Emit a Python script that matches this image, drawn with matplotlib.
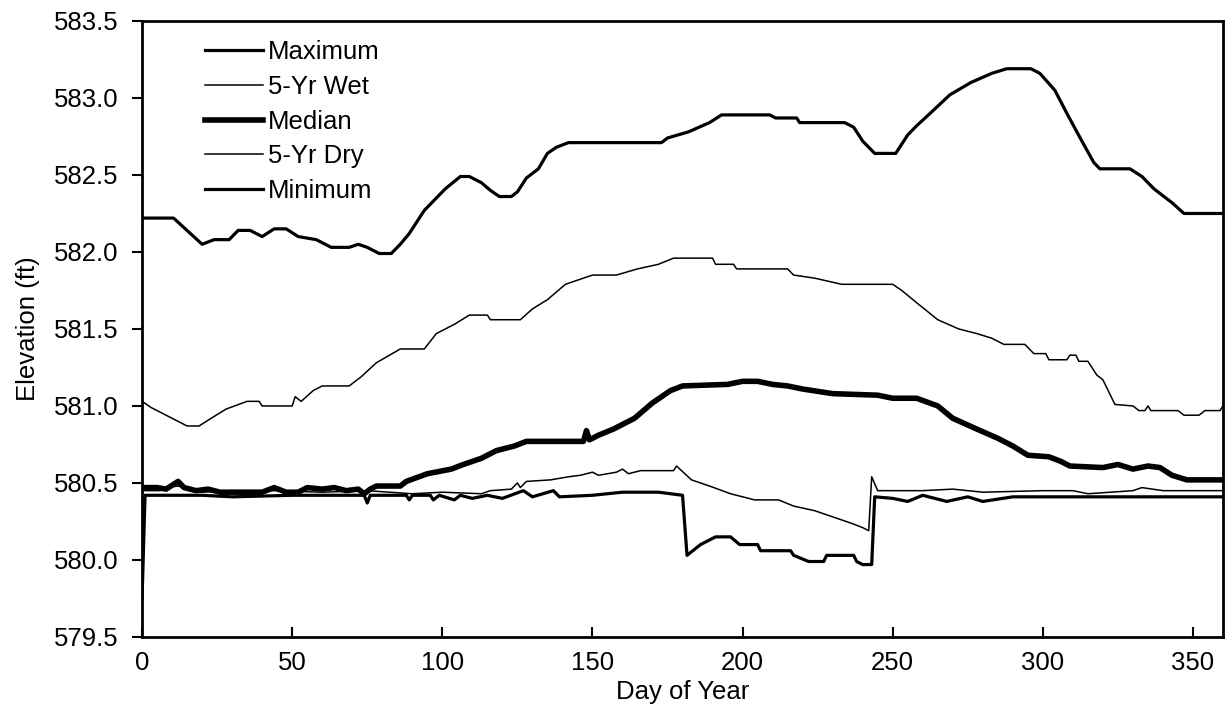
import matplotlib
matplotlib.use("Agg")
import matplotlib.pyplot as plt

plt.rcParams["font.family"] = ["Liberation Sans", "DejaVu Sans"]

# Maximum
max_days = [0, 10.5, 20, 24, 29, 32, 36, 40, 44, 48, 52, 58, 63, 69, 72, 75, 79, 83, 86, 89,
            94, 98, 101, 106, 109, 113, 116, 119, 123, 125, 128, 132, 135, 138, 142, 173, 175,
            182, 189, 193, 209, 211, 218, 219, 234, 237, 240, 244, 251, 255, 258, 263, 269, 276,
            283, 288, 296, 299, 304, 308, 313, 317, 319, 329, 333, 337, 343, 347, 360]
max_elev = [582.22, 582.22, 582.05, 582.08, 582.08, 582.14, 582.14, 582.10, 582.15, 582.15,
            582.10, 582.08, 582.03, 582.03, 582.05, 582.03, 581.99, 581.99, 582.05, 582.12,
            582.27, 582.35, 582.41, 582.49, 582.49, 582.45, 582.40, 582.36, 582.36, 582.39,
            582.48, 582.54, 582.64, 582.68, 582.71, 582.71, 582.74, 582.78, 582.84, 582.89,
            582.89, 582.87, 582.87, 582.84, 582.84, 582.81, 582.72, 582.64, 582.64, 582.76,
            582.82, 582.91, 583.02, 583.10, 583.16, 583.19, 583.19, 583.16, 583.05, 582.90,
            582.72, 582.58, 582.54, 582.54, 582.49, 582.41, 582.32, 582.25, 582.25]

# 5-Yr Wet
wet_days = [0, 3, 10, 15, 19, 23, 28, 35, 39, 40, 50, 51, 53, 57, 60, 69, 73, 78, 86, 94, 98,
            104, 109, 115, 116, 126, 130, 135, 141, 150, 158, 165, 172, 177, 190, 191, 197, 198,
            215, 217, 224, 233, 250, 253, 258, 265, 272, 278, 283, 287, 294, 297, 301, 302, 308,
            309, 311, 312, 315, 318, 320, 324, 330, 332, 334, 335, 336, 345, 347, 352, 354, 359, 360]
wet_elev = [581.03, 580.99, 580.92, 580.87, 580.87, 580.92, 580.98, 581.03, 581.03, 581.00,
            581.00, 581.06, 581.03, 581.10, 581.13, 581.13, 581.19, 581.28, 581.37, 581.37,
            581.47, 581.53, 581.59, 581.59, 581.56, 581.56, 581.63, 581.69, 581.79, 581.85,
            581.85, 581.89, 581.92, 581.96, 581.96, 581.92, 581.92, 581.89, 581.89, 581.85,
            581.83, 581.79, 581.79, 581.75, 581.67, 581.56, 581.50, 581.47, 581.44, 581.40,
            581.40, 581.34, 581.34, 581.30, 581.30, 581.33, 581.33, 581.29, 581.29, 581.20,
            581.17, 581.01, 581.00, 580.97, 580.97, 581.00, 580.97, 580.97, 580.94, 580.94,
            580.97, 580.97, 581.00]

# Median
med_days = [0, 5, 8, 12, 14, 18, 22, 26, 30, 40, 44, 48, 52, 55, 60, 64, 68, 72, 74, 76, 78,
            86, 88, 95, 103, 107, 113, 118, 124, 128, 147, 148, 149, 152, 157, 164, 170, 176,
            180, 195, 200, 205, 210, 215, 220, 230, 245, 250, 258, 265, 270, 278, 285, 290, 295,
            302, 306, 309, 320, 325, 330, 335, 339, 343, 348, 360]
med_elev = [580.47, 580.47, 580.46, 580.51, 580.47, 580.45, 580.46, 580.44, 580.44, 580.44,
            580.47, 580.44, 580.44, 580.47, 580.46, 580.47, 580.45, 580.46, 580.43, 580.46,
            580.48, 580.48, 580.51, 580.56, 580.59, 580.62, 580.66, 580.71, 580.74, 580.77,
            580.77, 580.84, 580.78, 580.81, 580.85, 580.92, 581.02, 581.10, 581.13, 581.14,
            581.16, 581.16, 581.14, 581.13, 581.11, 581.08, 581.07, 581.05, 581.05, 581.00,
            580.92, 580.85, 580.79, 580.74, 580.68, 580.67, 580.64, 580.61, 580.60, 580.62,
            580.59, 580.61, 580.60, 580.55, 580.52, 580.52]

# 5-Yr Dry
dry_days = [0, 6, 8, 12, 20, 30, 45, 60, 75, 90, 100, 113, 116, 123, 125, 126, 128, 136, 142,
            146, 150, 152, 158, 160, 162, 166, 177, 178, 183, 189, 196, 204, 212, 217, 224, 230,
            236, 240, 242, 243, 245, 260, 270, 280, 300, 310, 315, 330, 333, 340, 360]
dry_elev = [580.45, 580.45, 580.47, 580.48, 580.44, 580.45, 580.45, 580.44, 580.45, 580.43,
            580.44, 580.43, 580.45, 580.46, 580.50, 580.47, 580.51, 580.52, 580.54, 580.55,
            580.57, 580.55, 580.57, 580.59, 580.56, 580.58, 580.58, 580.61, 580.52, 580.48,
            580.43, 580.39, 580.39, 580.35, 580.32, 580.28, 580.24, 580.21, 580.19, 580.54,
            580.45, 580.45, 580.46, 580.44, 580.45, 580.45, 580.43, 580.45, 580.47, 580.45,
            580.45]

# Minimum
min_days = [0, 1, 20, 30, 50, 74, 75, 76, 88, 89, 90, 96, 97, 99, 104, 106, 110, 115, 120, 127,
            130, 137, 139, 150, 160, 172, 180, 181.5, 186, 188, 191, 196, 199, 205, 206, 216, 217,
            222, 227, 228, 237, 238, 240, 243, 244, 250, 255, 260, 268, 275, 280, 290, 360]
min_elev = [579.75, 580.42, 580.42, 580.41, 580.42, 580.42, 580.37, 580.42, 580.42, 580.39,
            580.42, 580.42, 580.39, 580.42, 580.39, 580.42, 580.40, 580.42, 580.40, 580.45,
            580.41, 580.45, 580.41, 580.42, 580.44, 580.44, 580.42, 580.03, 580.10, 580.12,
            580.15, 580.15, 580.10, 580.10, 580.06, 580.06, 580.03, 579.99, 579.99, 580.03,
            580.03, 579.99, 579.97, 579.97, 580.41, 580.40, 580.38, 580.42, 580.38, 580.41,
            580.38, 580.41, 580.41]

FS = 18.5

fig = plt.figure(figsize=(12.32, 7.23), dpi=100, facecolor="white")
ax = fig.add_axes([0.1153, 0.119, 0.8774, 0.852])

ax.plot(max_days, max_elev, color="black", linewidth=2.3, label="Maximum")
ax.plot(wet_days, wet_elev, color="black", linewidth=1.1, label="5-Yr Wet")
ax.plot(med_days, med_elev, color="black", linewidth=4.0, label="Median")
ax.plot(dry_days, dry_elev, color="black", linewidth=1.1, label="5-Yr Dry")
ax.plot(min_days, min_elev, color="black", linewidth=2.3, label="Minimum")

ax.set_xlim(0, 360)
ax.set_ylim(579.5, 583.5)
ax.set_xticks(range(0, 360, 50))
ax.set_yticks([579.5 + 0.5 * i for i in range(9)])
ax.yaxis.set_major_formatter(matplotlib.ticker.FormatStrFormatter("%.1f"))
ax.tick_params(axis="x", direction="in", length=7, width=1.5, labelsize=FS, pad=10)
ax.tick_params(axis="y", direction="out", length=7, width=1.5, labelsize=FS, pad=10)
for s in ax.spines.values():
    s.set_linewidth(2.0)

ax.set_xlabel("Day of Year", fontsize=FS, labelpad=4)
ax.set_ylabel("Elevation (ft)", fontsize=FS, labelpad=10)

ax.legend(loc="upper left", bbox_to_anchor=(0.058, 0.969), frameon=False, fontsize=FS,
          handlelength=2.25, handletextpad=0.2, labelspacing=0.42, borderaxespad=0,
          borderpad=0)

fig.savefig("out.png", dpi=100, facecolor="white")
